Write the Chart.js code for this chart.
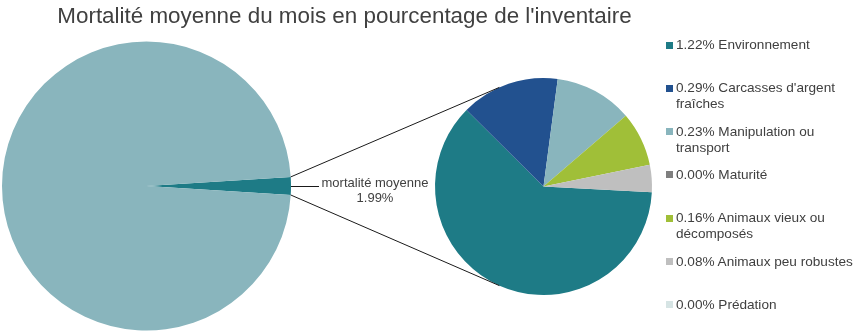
<!DOCTYPE html>
<html>
<head>
<meta charset="utf-8">
<script src="https://cdn.jsdelivr.net/npm/chart.js@4.4.1/dist/chart.umd.min.js"></script>
<style>
  body { margin: 0; background: #fff; }
  #wrap { position: relative; width: 865px; height: 335px; overflow: hidden; font-family: "Liberation Sans", Arial, sans-serif; color: #404040; }
  #wrap canvas { position: absolute; left: 0; top: 0; }
  #title { position: absolute; left: 0; width: 689px; top: 5px; text-align: center; font-size: 22.4px; line-height: 22px; white-space: nowrap; }
  .leg { position: absolute; left: 666px; font-size: 13.6px; line-height: 16px; }
  .leg .box { position: absolute; left: 0; top: 4.5px; width: 7px; height: 7px; }
  .leg .txt { position: absolute; left: 10px; top: 0; width: 184px; }
</style>
</head>
<body>
<div id="wrap">
  <canvas id="mainPie" width="865" height="335"></canvas>
  <canvas id="detailPie" width="865" height="335"></canvas>
  <div id="title">Mortalité moyenne du mois en pourcentage de l'inventaire</div>
</div>
<script>
// ---- données ----
const titleText = "Mortalité moyenne du mois en pourcentage de l'inventaire";
const mainLabels = ['mortalité moyenne', 'inventaire'];
const mainValues = [1.99, 98.01];
const mainColors = ['#1e7b86', '#89b5bd'];

const causeLabels = ['Environnement', "Carcasses d'argent fraîches", 'Manipulation ou transport', 'Maturité',
                     'Animaux vieux ou décomposés', 'Animaux peu robustes', 'Prédation'];
const causeValues = [1.22, 0.29, 0.23, 0.00, 0.16, 0.08, 0.00];
const causeColors = ['#1e7b86', '#22518f', '#89b5bd', '#7f7f7f', '#a0bf38', '#bfbfbf', '#d6e4e4'];

// ---- camembert principal (gauche) ----
const mainChart = new Chart(document.getElementById('mainPie'), {
    type: 'pie',
    data: {
        labels: mainLabels,
        datasets: [{ data: mainValues, backgroundColor: mainColors, borderWidth: 0 }]
    },
    options: {
        responsive: false,
        animation: false,
        rotation: 86.4,
        layout: { padding: { left: 2, top: 41, right: 574, bottom: 4 } },
        plugins: { legend: { display: false }, tooltip: { enabled: false } }
    }
});

// lignes de liaison + étiquette
const connectorPlugin = {
    id: 'connectors',
    afterDraw(chart) {
        const ctx = chart.ctx;
        const src = mainChart.getDatasetMeta(0).data[0];
        const dst = chart.getDatasetMeta(0).data[0];
        const a1 = src.startAngle, a2 = src.endAngle, r = src.outerRadius;
        const p1 = { x: src.x + r * Math.cos(a1), y: src.y + r * Math.sin(a1) };
        const p2 = { x: src.x + r * Math.cos(a2), y: src.y + r * Math.sin(a2) };
        const t = 114 * Math.PI / 180;
        const q1 = { x: dst.x + dst.outerRadius * Math.cos(-t), y: dst.y + dst.outerRadius * Math.sin(-t) };
        const q2 = { x: dst.x + dst.outerRadius * Math.cos(t), y: dst.y + dst.outerRadius * Math.sin(t) };

        ctx.save();
        ctx.strokeStyle = '#1a1a1a';
        ctx.lineWidth = 1;
        ctx.beginPath();
        ctx.moveTo(p1.x, p1.y); ctx.lineTo(q1.x, q1.y);
        ctx.moveTo(p2.x, p2.y); ctx.lineTo(q2.x, q2.y);
        // petit trait vers l'étiquette
        const edgeX = src.x + r;
        ctx.moveTo(edgeX, src.y + 0.5); ctx.lineTo(edgeX + 28, src.y + 0.5);
        ctx.stroke();

        ctx.fillStyle = '#404040';
        ctx.font = '13px "Liberation Sans", Arial, sans-serif';
        ctx.textAlign = 'center';
        ctx.textBaseline = 'middle';
        ctx.fillText(mainLabels[0], edgeX + 84, src.y - 3);
        ctx.fillText(mainValues[0].toFixed(2) + '%', edgeX + 84, src.y + 12);
        ctx.restore();
    }
};

// ---- camembert de détail (droite) ----
const detailChart = new Chart(document.getElementById('detailPie'), {
    type: 'pie',
    data: {
        labels: causeLabels,
        datasets: [{ data: causeValues, backgroundColor: causeColors, borderWidth: 0 }]
    },
    options: {
        responsive: false,
        animation: false,
        rotation: 93,
        layout: { padding: { left: 435, top: 78, right: 213, bottom: 40 } },
        plugins: { legend: { display: false }, tooltip: { enabled: false } }
    },
    plugins: [connectorPlugin]
});

// ---- légende ----
const wrap = document.getElementById('wrap');
causeLabels.forEach((lab, i) => {
    const item = document.createElement('div');
    item.className = 'leg';
    item.style.top = (37 + i * 43.3) + 'px';
    item.innerHTML = '<div class="box" style="background:' + causeColors[i] + '"></div>' +
                     '<div class="txt">' + causeValues[i].toFixed(2) + '% ' + lab + '</div>';
    wrap.appendChild(item);
});
</script>
</body>
</html>
